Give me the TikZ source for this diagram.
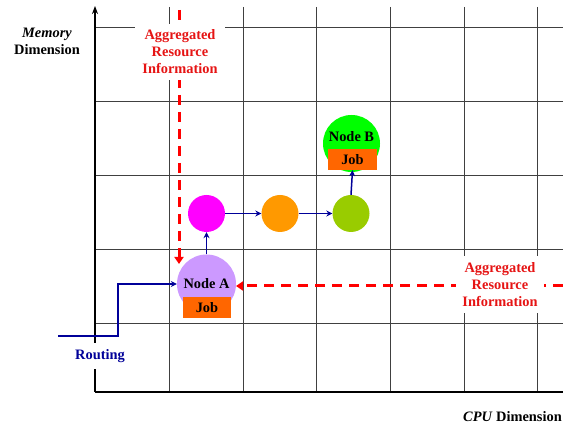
\documentclass[tikz,border=0pt]{standalone}
\usepackage{fontspec}
\setmainfont{Liberation Serif}
\usetikzlibrary{arrows.meta}
\definecolor{navy}{RGB}{0,0,153}
\definecolor{aggred}{RGB}{230,20,20}
\definecolor{dashred}{RGB}{255,0,0}
\definecolor{lilac}{RGB}{204,153,255}
\definecolor{magentac}{RGB}{255,0,255}
\definecolor{orangec}{RGB}{255,153,0}
\definecolor{limec}{RGB}{153,204,0}
\definecolor{greenc}{RGB}{0,255,0}
\definecolor{jobc}{RGB}{255,102,0}
\tikzset{
  txt/.style={font=\bfseries\fontsize{14.4}{17}\selectfont, inner sep=0pt},
  gridline/.style={draw=black!75, line width=0.8pt},
  axisline/.style={draw=black, line width=1.6pt},
  circ/.style={circle, inner sep=0pt, draw=none},
  jobbox/.style={rectangle, fill=jobc, minimum width=48pt, minimum height=21pt, inner sep=0pt, font=\bfseries\fontsize{14.4}{17}\selectfont},
  flow/.style={draw=navy, line width=1.5pt, -{Stealth[length=6pt,width=6pt]}},
  aggline/.style={draw=dashred, line width=3pt, dash pattern=on 10pt off 7pt, -{Triangle[length=7pt,width=9pt]}},
  agglabel/.style={txt, text=aggred, fill=white, align=center, inner xsep=7pt, inner ysep=6pt}
}
\begin{document}
\begin{tikzpicture}[x=1pt, y=-1pt]
\useasboundingbox (0,0) rectangle (563,427);
% grid
\foreach \gx in {169,243,316,390,464,537} {\draw[gridline] (\gx,7) -- (\gx,392);}
\foreach \gy in {27,101,175,249,323} {\draw[gridline] (95,\gy) -- (563,\gy);}
% axes
\coordinate (origin) at (95,392);
\coordinate (ytop) at (95,6);
\coordinate (xend) at (563,392);
\draw[axisline, -{Stealth[length=8pt,width=6pt]}] (origin) -- (ytop);
\draw[axisline] (origin) -- (xend);
% nodes
\node[circ, fill=lilac, minimum size=59pt] (nodeA) at (206.5,284) {};
\node[txt] (nodeAlabel) at (206.5,284) {Node A};
\node[jobbox] (jobA) at (207,307.5) {Job};
\node[circ, fill=magentac, minimum size=37pt] (mag) at (206.5,213.5) {};
\node[circ, fill=orangec, minimum size=37pt] (org) at (280,213.5) {};
\node[circ, fill=limec, minimum size=37pt] (lime) at (351,213.5) {};
\node[circ, fill=greenc, minimum size=57pt] (nodeB) at (351.5,143.5) {};
\node[txt] (nodeBlabel) at (351.5,137) {Node B};
\node[jobbox, minimum width=49pt] (jobB) at (352.5,159.5) {Job};
% flow arrows
\draw[flow] (nodeA.north) -- (mag.south);
\draw[flow] (mag.east) -- (org.west);
\draw[flow] (org.east) -- (lime.west);
\draw[flow] (lime.north) -- (jobB.south);
% routing
\coordinate (rstart) at (58,336);
\draw[flow] (rstart) -- ++(60,0) |- (nodeA.west);
% aggregated lines
\coordinate (aggtop) at (179,10);
\coordinate (aggtip) at (179,264);
\coordinate (aggright) at (563,286);
\coordinate (aggAtip) at (236,286);
\draw[aggline] (aggtop) -- (aggtip);
\draw[aggline] (aggright) -- (aggAtip);
% labels
\node[agglabel] (agg1) at (180,52) {Aggregated\\Resource\\Information};
\node[agglabel, inner xsep=6pt] (agg2) at (500,284.5) {Aggregated\\Resource\\Information};
\node[txt, text=navy, fill=white, inner ysep=6pt, inner xsep=3pt] (routing) at (100,356) {Routing};
\node[txt, align=center] (memlabel) at (47,41) {\textit{Memory}\\Dimension};
\node[txt, anchor=east] (cpulabel) at (562,417) {\textit{CPU} Dimension};
\end{tikzpicture}
\end{document}
